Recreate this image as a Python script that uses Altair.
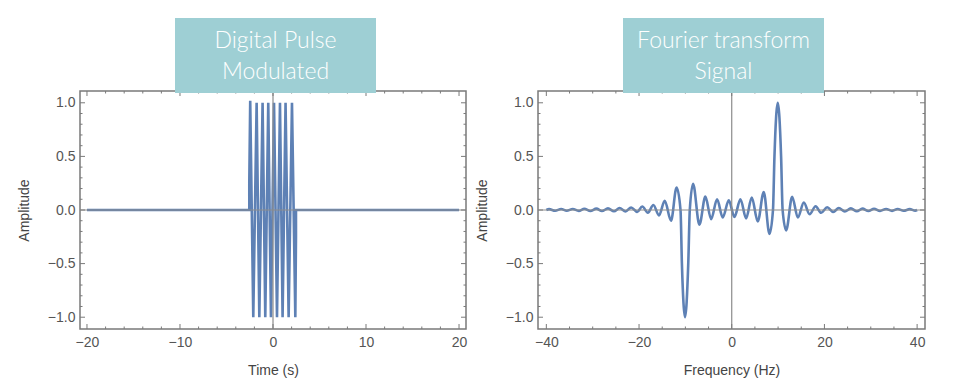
import altair as alt
import pandas as pd

# ---------------- data ----------------
# Left panel: digital pulse modulated (time in s, amplitude)
time_s = [-20.0, -2.55, -2.55, -2.45, -2.12, -1.76, -1.47, -1.12, -0.83, -0.51, -0.22,
          0.11, 0.43, 0.75, 1.03, 1.35, 1.68, 2.04, 2.40, 2.47, 2.47, 20.0]
amp_t = [0.0, 0.0, 0.25, 1.02, -1.0, 1.0, -1.0, 1.0, -1.0, 1.0, -1.0,
         1.0, -1.0, 1.0, -1.0, 1.0, -1.0, 1.0, -1.0, -0.25, 0.0, 0.0]

# Right panel: Fourier transform (frequency in Hz, amplitude)
freq_hz = [-40.0, -39.4, -38.1, -36.8, -35.6, -34.3, -33.0, -31.8, -30.5, -29.2, -28.0,
           -26.7, -25.4, -24.2, -22.9, -21.7, -20.4, -19.3, -18.1, -16.9, -15.7,
           -14.45, -13.1, -11.9, -11.05, -10.75, -10.07, -9.38, -9.05, -8.34, -6.98,
           -5.68, -4.45, -3.16, -1.94, -0.64, 0.58, 1.88, 3.10, 4.32, 5.62, 6.91,
           8.14, 8.9, 9.22, 9.93, 10.65, 10.98, 11.74, 13.04, 14.26, 15.56, 16.8,
           18.1, 19.3, 20.6, 21.9, 23.1, 24.4, 25.7, 27.0, 28.2, 29.5, 30.7, 32.0,
           33.3, 34.6, 35.8, 37.1, 38.4, 39.6, 40.0]
amp_f = [0.0, 0.008, -0.007, 0.009, -0.007, 0.010, -0.008, 0.011, -0.009, 0.013, -0.010,
         0.015, -0.012, 0.018, -0.014, 0.024, -0.018, 0.032, -0.025, 0.047, -0.050,
         0.085, -0.100, 0.210, 0.0, -0.5, -1.0, -0.5, 0.0, 0.245, -0.137,
         0.125, -0.085, 0.100, -0.070, 0.090, -0.065, 0.100, -0.078, 0.117, -0.107, 0.168,
         -0.224, 0.0, 0.5, 1.0, 0.5, 0.0, -0.190, 0.124, -0.070, 0.070, -0.040,
         0.035, -0.026, 0.025, -0.018, 0.018, -0.014, 0.015, -0.012, 0.013, -0.010, 0.011, -0.009,
         0.010, -0.008, 0.009, -0.007, 0.008, -0.006, 0.0]

# tick values
left_x_major = [-20, -10, 0, 10, 20]
left_x_minor = [-18, -16, -14, -12, -8, -6, -4, -2, 2, 4, 6, 8, 12, 14, 16, 18]
right_x_major = [-40, -20, 0, 20, 40]
right_x_minor = [-35, -30, -25, -15, -10, -5, 5, 10, 15, 25, 30, 35]
y_major = [-1.0, -0.5, 0.0, 0.5, 1.0]
y_minor = [-0.9, -0.8, -0.7, -0.6, -0.4, -0.3, -0.2, -0.1,
           0.1, 0.2, 0.3, 0.4, 0.6, 0.7, 0.8, 0.9]

# ---------------- styling ----------------
H = 238
BLUE = "#5E81B5"
FRAME = "#7a7a7a"
AXISLINE = "#8c8c8c"
BOX = "#9ECFD4"
LABEL_FONT = "Liberation Sans"
TITLE_FONT = "Lato"
Y_DOMAIN = [-1.11, 1.11]


def panel(df, xfield, xdomain, xmajor, xminor, W, xtitle, xfmt, lines,
          box_x, box_x2, interp):
    xs = alt.Scale(domain=xdomain, nice=False, zero=False)
    ys = alt.Scale(domain=Y_DOMAIN, nice=False, zero=False)
    xa = alt.Axis(values=xmajor, format=xfmt, ticks=False, domain=False,
                  grid=False, labelFont=LABEL_FONT, labelFontSize=14,
                  labelColor="#555555", labelPadding=6,
                  titleFont=LABEL_FONT, titleFontSize=14,
                  titleFontWeight="normal", titleColor="#444444",
                  titlePadding=14)
    ya = alt.Axis(values=y_major, format=".1f", ticks=False, domain=False,
                  grid=False, labelFont=LABEL_FONT, labelFontSize=14,
                  labelColor="#555555", labelPadding=5,
                  titleFont=LABEL_FONT, titleFontSize=14,
                  titleFontWeight="normal", titleColor="#444444",
                  titlePadding=15.5)

    def X(field):
        return alt.X(f"{field}:Q", scale=xs, axis=xa, title=xtitle)

    def Y(field):
        return alt.Y(f"{field}:Q", scale=ys, axis=ya, title="Amplitude")

    main = alt.Chart(df).mark_line(
        color=BLUE, strokeWidth=2.6, interpolate=interp, clip=True
    ).encode(x=X(xfield), y=Y("amp"), order="i:Q")

    zero_df = pd.DataFrame({"v": [0.0]})
    hline = alt.Chart(zero_df).mark_rule(color=AXISLINE, strokeWidth=1).encode(y=Y("v"))
    vline = alt.Chart(zero_df).mark_rule(color=AXISLINE, strokeWidth=1.2).encode(x=X("v"))

    def xt(vals, length, top):
        d = pd.DataFrame({"v": vals})
        if top:
            y0, y1 = 0, length
        else:
            y0, y1 = H, H - length
        return alt.Chart(d).mark_rule(color=FRAME, strokeWidth=1).encode(
            x=X("v"), y=alt.value(y0), y2=alt.value(y1))

    def yt(vals, length, left):
        d = pd.DataFrame({"v": vals})
        if left:
            x0, x1 = 0, length
        else:
            x0, x1 = W, W - length
        return alt.Chart(d).mark_rule(color=FRAME, strokeWidth=1).encode(
            y=Y("v"), x=alt.value(x0), x2=alt.value(x1))

    ticks = [
        xt(xmajor, 5, False), xt(xminor, 2.5, False),
        xt(xmajor, 5, True), xt(xminor, 2.5, True),
        yt(y_major, 5, True), yt(y_minor, 2.5, True),
        yt(y_major, 5, False), yt(y_minor, 2.5, False),
    ]

    one = pd.DataFrame({"k": [0]})
    box = alt.Chart(one).mark_rect(color=BOX, opacity=1).encode(
        x=alt.value(box_x), x2=alt.value(box_x2),
        y=alt.value(-73), y2=alt.value(2))
    txt = alt.Chart(one).mark_text(
        text=lines, font=TITLE_FONT, fontSize=23, fontWeight=300, color="white",
        align="center", baseline="alphabetic", lineHeight=31
    ).encode(x=alt.value((box_x + box_x2) / 2), y=alt.value(-42.7))

    layers = [main, hline, vline] + ticks + [box, txt]
    return alt.layer(*layers).properties(width=W, height=H)


df_left = pd.DataFrame({"t": time_s, "amp": amp_t, "i": list(range(len(time_s)))})
df_right = pd.DataFrame({"f": freq_hz, "amp": amp_f, "i": list(range(len(freq_hz)))})

left = panel(df_left, "t", [-20.75, 20.75], left_x_major, left_x_minor, 386,
             "Time (s)", "d", ["Digital Pulse", "Modulated"], 95, 296, "linear")
right = panel(df_right, "f", [-41.8, 41.7], right_x_major, right_x_minor, 387,
              "Frequency (Hz)", "d", ["Fourier transform", "Signal"], 85, 286,
              "monotone")

chart = alt.hconcat(left, right, spacing=7).properties(
    padding={"left": 9, "top": 9, "right": 5, "bottom": 5},
    background="white",
).configure_view(stroke=FRAME, strokeWidth=1.5)

chart.save("out.html", embed_options={"renderer": "svg", "actions": False})
